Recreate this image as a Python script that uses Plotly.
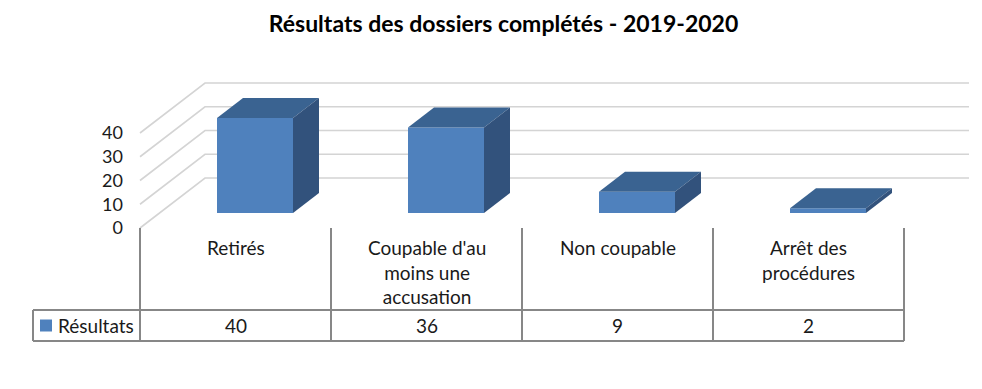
import plotly.graph_objects as go

# Data
categories = ["Retirés", "Coupable d'au<br>moins une<br>accusation", "Non coupable", "Arrêt des<br>procédures"]
values = [40, 36, 9, 2]
series_name = "Résultats"
y_ticks = [0, 10, 20, 30, 40]
title_text = "<b>Résultats des dossiers complétés - 2019-2020</b>"

# Scale: one category = 191 px, one value unit = 2.375 px
W, H = 982, 389
PX_X, PX_Y = 191.0, 2.375
X0, Y0 = 140.0, 228.0
x_range = [(0 - X0) / PX_X, (W - X0) / PX_X]
y_range = [(Y0 - H) / PX_Y, (Y0 - 0) / PX_Y]

# 3-D projection offsets, in axis units
WALL_DX, WALL_DY = 65 / PX_X, 50 / PX_Y
BAR_POS = 0.3
BAR_DX, BAR_DY = 26 / PX_X, 20 / PX_Y
BAR_W = 76 / PX_X
base_y = BAR_POS * WALL_DY
shift_x = BAR_POS * WALL_DX

FRONT, TOP, SIDE = "#4F81BD", "#3A6391", "#32527C"
GRID, TABLE = "#D4D4D4", "#878787"
FONT = "Lato, Carlito, Calibri, sans-serif"
TXT = "#1a1a1a"
FS = 19

n = len(categories)
fig = go.Figure()

# Walls/gridlines under the bars
shapes = []
for v in y_ticks:
    path = (f"M 0 {v} L {WALL_DX} {v + WALL_DY} L {n + WALL_DX} {v + WALL_DY}")
    shapes.append(dict(type="path", path=path, xref="x", yref="y", layer="below",
                       line=dict(color=GRID, width=1.6)))

# Front faces
fig.add_trace(go.Bar(
    x=[i + 0.5 + shift_x for i in range(n)], y=values, base=[base_y] * n, width=BAR_W,
    marker=dict(color=FRONT, line=dict(width=0)), name=series_name, showlegend=False,
    customdata=values, hovertemplate="%{customdata}<extra></extra>"))

# Top and side faces
for i, v in enumerate(values):
    l = i + 0.5 + shift_x - BAR_W / 2
    r = l + BAR_W
    t = base_y + v
    fig.add_trace(go.Scatter(
        x=[l, r, r + BAR_DX, l + BAR_DX, l], y=[t, t, t + BAR_DY, t + BAR_DY, t],
        mode="lines", fill="toself", fillcolor=TOP, line=dict(width=0),
        showlegend=False, hoverinfo="skip"))
    fig.add_trace(go.Scatter(
        x=[r, r + BAR_DX, r + BAR_DX, r, r],
        y=[base_y, base_y + BAR_DY, t + BAR_DY, t, base_y],
        mode="lines", fill="toself", fillcolor=SIDE, line=dict(width=0),
        showlegend=False, hoverinfo="skip"))

# Data table rules
ROW_TOP = (Y0 - 310) / PX_Y
ROW_BOT = (Y0 - 341) / PX_Y
TABLE_LEFT = (33 - X0) / PX_X
for i in range(n + 1):
    shapes.append(dict(type="line", xref="x", yref="y", x0=i, x1=i, y0=0, y1=ROW_BOT,
                       line=dict(color=TABLE, width=2)))
for yy in (ROW_TOP, ROW_BOT):
    shapes.append(dict(type="line", xref="x", yref="y", x0=TABLE_LEFT, x1=n, y0=yy, y1=yy,
                       line=dict(color=TABLE, width=2)))
shapes.append(dict(type="line", xref="x", yref="y", x0=TABLE_LEFT, x1=TABLE_LEFT, y0=ROW_TOP, y1=ROW_BOT,
                   line=dict(color=TABLE, width=2)))

annots = []
# Category labels
for i, c in enumerate(categories):
    annots.append(dict(x=i + 0.5, y=(Y0 - 234) / PX_Y, xref="x", yref="y", text=c, showarrow=False,
                       yanchor="top", xanchor="center", align="center",
                       font=dict(family=FONT, size=FS, color=TXT)))
# Value row
for i, v in enumerate(values):
    annots.append(dict(x=i + 0.5, y=(Y0 - 325) / PX_Y, xref="x", yref="y", text=str(v), showarrow=False,
                       font=dict(family=FONT, size=FS, color=TXT)))
# Legend key + name
annots.append(dict(x=(56 - X0) / PX_X, y=(Y0 - 325) / PX_Y, xref="x", yref="y", text=series_name,
                   showarrow=False, xanchor="left", font=dict(family=FONT, size=FS, color=TXT)))
fig.add_trace(go.Scatter(x=[(46 - X0) / PX_X], y=[(Y0 - 325.5) / PX_Y], mode="markers",
                         marker=dict(symbol="square", size=12, color=FRONT, line=dict(width=0)),
                         showlegend=False, hoverinfo="skip"))

fig.update_layout(
    width=W, height=H, margin=dict(l=0, r=0, t=0, b=0),
    paper_bgcolor="white", plot_bgcolor="white", showlegend=False,
    shapes=shapes, annotations=annots,
    title=dict(text=title_text, x=503.5 / W, xanchor="center", xref="paper",
               y=1 - 24 / H, yanchor="middle", yref="container",
               font=dict(family=FONT, size=23, color="black")),
    xaxis=dict(range=x_range, visible=False, fixedrange=True),
    yaxis=dict(range=y_range, anchor="free", position=X0 / W, tickvals=y_ticks,
               showgrid=False, zeroline=False, showline=False, ticks="",
               ticklabelstandoff=17, fixedrange=True,
               tickfont=dict(family=FONT, size=18, color=TXT)),
)
fig.write_html("out.html", config=dict(displayModeBar=False),
               post_script="document.body.style.margin='0';")
